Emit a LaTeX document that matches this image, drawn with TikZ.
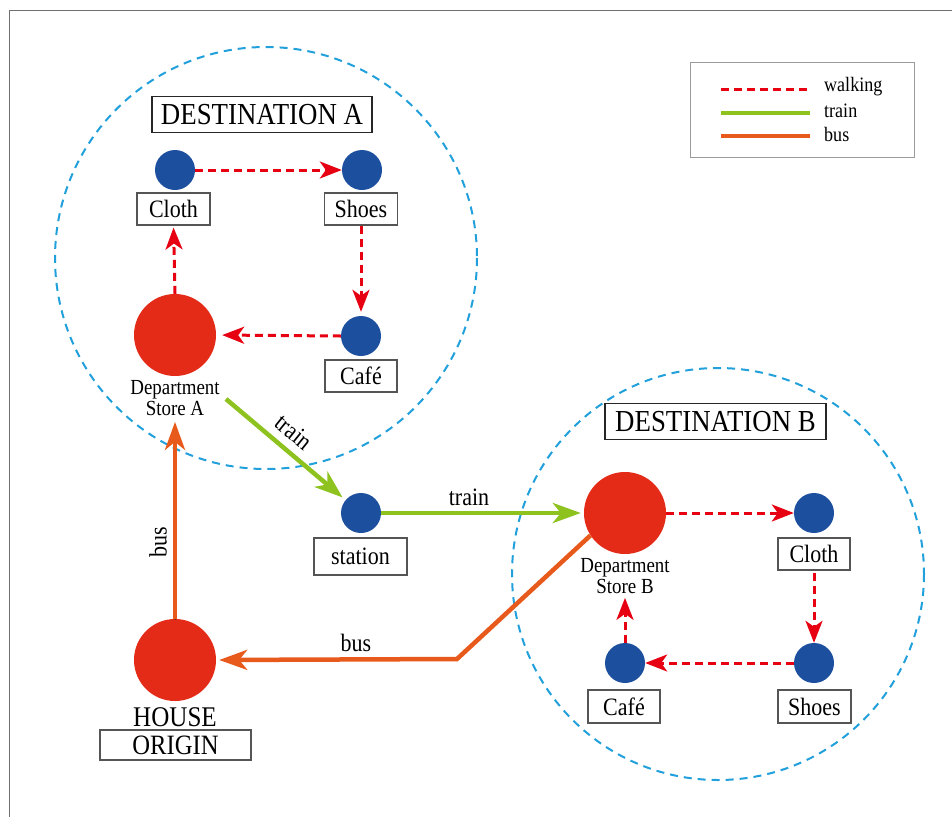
\documentclass[tikz,border=0pt]{standalone}
\usepackage{fontspec}
\setmainfont{Liberation Serif}
\newfontfamily\tnr[FakeStretch=0.88]{Liberation Serif}
\usetikzlibrary{arrows.meta}
\definecolor{walkred}{HTML}{E60012}
\definecolor{storered}{HTML}{E32B17}
\definecolor{dotblue}{HTML}{1D4F9F}
\definecolor{traingreen}{HTML}{8DC21F}
\definecolor{busorange}{HTML}{E85A1C}
\definecolor{ringcyan}{HTML}{21A0DB}
\definecolor{boxgray}{HTML}{555555}
\definecolor{framegray}{HTML}{707070}
\begin{document}
\begin{tikzpicture}[x=1pt,y=-1pt,
  bdot/.style={circle, fill=dotblue, inner sep=0pt, minimum size=40pt},
  rdot/.style={circle, fill=storered, inner sep=0pt, minimum size=82pt},
  lbl/.style={draw=boxgray, line width=1.1pt, fill=white, inner sep=0pt, minimum height=32pt, font=\tnr\fontsize{25}{26}\selectfont},
  titlebox/.style={draw=black!85, line width=1.1pt, inner sep=0pt, minimum height=36pt, font=\tnr\fontsize{30.5}{32}\selectfont},
  storetxt/.style={align=center, inner sep=0pt, font=\tnr\fontsize{21.5}{21}\selectfont},
  edgetxt/.style={inner sep=0pt, font=\tnr\fontsize{25}{26}\selectfont},
  legtxt/.style={anchor=west, inner sep=0pt, font=\tnr\fontsize{20.5}{22}\selectfont},
  ring/.style={draw=ringcyan, line width=2pt, dash pattern=on 8pt off 6pt},
  walk/.style={draw=walkred, line width=3pt, dash pattern=on 8pt off 5pt, -{Stealth[length=22pt,width=17pt,inset=6pt]}},
  trainarrow/.style={draw=traingreen, line width=4.5pt, -{Stealth[length=28pt,width=20pt,inset=8pt]},
     preaction={draw=black!80, transform canvas={shift={(0.6pt,-1pt)}}}},
  busarrow/.style={draw=busorange, line width=4.5pt, -{Stealth[length=28pt,width=20pt,inset=8pt]},
     preaction={draw=black!80, transform canvas={shift={(0.6pt,-1pt)}}}},
  legline/.style={line width=4pt}
]
\useasboundingbox (0,0) rectangle (952,817);
\fill[white] (0,0) rectangle (952,817);
% outer frame (top and left edges visible)
\draw[framegray, line width=1.5pt] (9.5,817) -- (9.5,10.5) -- (952,10.5);

% destination rings
\draw[ring] (266,258) circle (211);
\draw[ring] (718,574) circle (206);

% titles
\node[titlebox, minimum width=220pt] (destA) at (262,114.5) {DESTINATION A};
\node[titlebox, minimum width=221pt] (destB) at (715.5,421.5) {DESTINATION B};

% legend
\node[draw=framegray!70, line width=1pt, minimum width=224pt, minimum height=95pt, inner sep=0pt] (legend) at (802,109.5) {};
\coordinate (lw1) at (721,89);  \coordinate (lw2) at (810,89);
\coordinate (lt1) at (721,113); \coordinate (lt2) at (810,113);
\coordinate (lb1) at (721,136); \coordinate (lb2) at (810,136);
\draw[walkred, line width=3pt, dash pattern=on 8pt off 5pt] (lw1) -- (lw2);
\draw[traingreen, legline] (lt1) -- (lt2);
\draw[busorange, legline] (lb1) -- (lb2);
\node[legtxt] (lgw) at (824,87) {walking};
\node[legtxt] (lgt) at (824,111) {train};
\node[legtxt] (lgb) at (824,134) {bus};

% destination A
\node[bdot] (clothA) at (175,170) {};
\node[lbl, minimum width=73pt] (clothAl) at (173.5,209) {Cloth};
\node[bdot] (shoesA) at (362,170) {};
\node[lbl, minimum width=73pt] (shoesAl) at (361,209) {Shoes};
\node[bdot] (cafeA) at (361,336) {};
\node[lbl, minimum width=72pt] (cafeAl) at (361,376) {Café};
\node[rdot] (deptA) at (175,335) {};
\node[storetxt] (deptAt) at (175,398) {Department\\Store A};

% station
\node[bdot] (station) at (361,513) {};
\node[lbl, minimum width=93pt, minimum height=37pt] (stationl) at (360.5,556.5) {station};

% destination B
\node[rdot] (deptB) at (625,513) {};
\node[storetxt] (deptBt) at (625,576) {Department\\Store B};
\node[bdot] (clothB) at (814,513) {};
\node[lbl, minimum width=72pt] (clothBl) at (814,554) {Cloth};
\node[bdot] (shoesB) at (814,663) {};
\node[lbl, minimum width=73pt, minimum height=33pt] (shoesBl) at (814.5,706.5) {Shoes};
\node[bdot] (cafeB) at (625,663) {};
\node[lbl, minimum width=72pt, minimum height=33pt] (cafeBl) at (624,706.5) {Café};

% house
\node[rdot] (house) at (175,660) {};
\node[inner sep=0pt, font=\tnr\fontsize{28.5}{29}\selectfont] (houset) at (175,717) {HOUSE};
\node[lbl, minimum width=151pt, minimum height=30pt, font=\tnr\fontsize{28}{29}\selectfont] (origin) at (175.5,745) {ORIGIN};

% walking arrows A
\draw[walk, shorten >=2pt] (deptA.north) -- (clothAl.south);
\draw[walk] (clothA.east) -- (shoesA.west);
\draw[walk, shorten >=4pt] (shoesAl.south) -- (cafeA.north);
\draw[walk, shorten >=6pt] (cafeA.west) -- (deptA.east);

% walking arrows B
\draw[walk] (deptB.east) -- (clothB.west);
\draw[walk, shorten <=2pt] (clothBl.south) -- (shoesB.north);
\draw[walk] (shoesB.west) -- (cafeB.east);
\draw[walk, shorten >=4pt] (cafeB.north) -- (deptBt.south);

% train
\coordinate (tA) at (226,399);
\draw[trainarrow, shorten >=4pt] (tA) -- (station);
\node[edgetxt, rotate=-39] (trainlab1) at (294,432) {train};
\draw[trainarrow, shorten >=3pt] (station.east) -- (deptB.west);
\node[edgetxt] (trainlab2) at (469,497) {train};

% bus
\draw[busarrow, shorten >=6pt] (house.north) -- (deptAt.south);
\node[edgetxt, rotate=90] (buslab1) at (158,542) {bus};
\coordinate (kink) at (457,659);
\draw[busarrow, line join=miter, shorten >=3pt] (deptB.213) -- (kink) -- (house.east);
\node[edgetxt] (buslab2) at (356,643) {bus};
\end{tikzpicture}
\end{document}
